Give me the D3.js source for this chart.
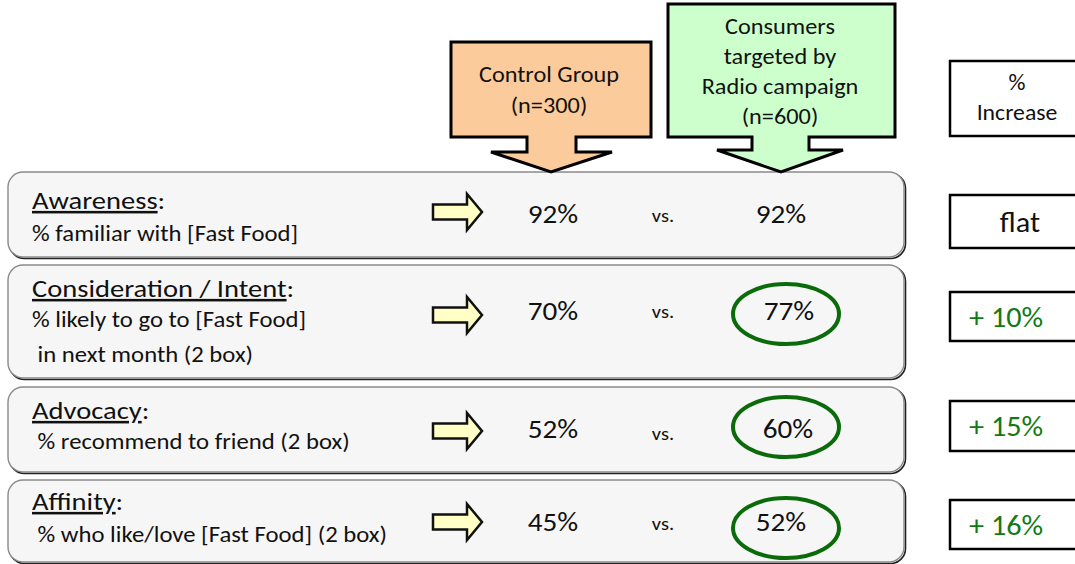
<!DOCTYPE html>
<html>
<head>
<meta charset="utf-8">
<script src="https://cdn.jsdelivr.net/npm/d3@7"></script>
<style>
  body { margin:0; background:#fff; }
  text { font-family: Carlito, Calibri, Lato, sans-serif; fill:#111; }
</style>
</head>
<body>
<div id="plot"></div>
<script>
// chart data
var metrics = ['Awareness', 'Consideration / Intent', 'Advocacy', 'Affinity'];
var descriptions = [
  ['% familiar with [Fast Food]'],
  ['% likely to go to [Fast Food]', ' in next month (2 box)'],
  [' % recommend to friend (2 box)'],
  [' % who like/love [Fast Food] (2 box)']
];
var controlValues = [92, 70, 52, 45];
var radioValues = [92, 77, 60, 52];
var increaseLabels = ['flat', '+ 10%', '+ 15%', '+ 16%'];
var highlighted = [false, true, true, true];
var groups = [
  {key:'control', lines:['Control Group', '(n=300)']},
  {key:'radio', lines:['Consumers', 'targeted by', 'Radio campaign', '(n=600)']}
];
var increaseHeader = ['%', 'Increase'];

// layout
var width = 1075, height = 564;
var sx = 1.08; // text is a bit wider than tall in the original
var rowTop = [172, 265, 387, 480],
    rowBottom = [257, 378, 472, 562],
    labelY = [209, 297, 419, 510],
    descY = [241, 327, 449, 542],
    arrowY = [212, 315, 431, 522],
    valueY = [223, 320, 438, 531],
    vsY = [222, 318, 440, 530],
    ringY = [214, 314, 427, 528],
    radioDx = [0, 8, 7, 0],
    incTop = [195, 292, 401, 500],
    incBottom = [248, 341, 451, 549];

var x = d3.scaleOrdinal()
  .domain(['control', 'vs', 'radio'])
  .range([553, 663, 781]);

function place(px, py, k){
  return 'translate(' + px + ',' + py + ') scale(' + (k || sx) + ',1)';
}

var svg = d3.select('#plot')
  .append('svg')
  .attr('width', width)
  .attr('height', height);

var rows = svg.selectAll('g.row')
  .data(metrics)
  .enter()
  .append('g')
  .attr('class', 'row');

// shadow + box
rows.append('rect')
  .attr('x', 9.5).attr('y', function(d,i){ return rowTop[i] + 1.5; })
  .attr('width', 896).attr('height', function(d,i){ return rowBottom[i] - rowTop[i]; })
  .attr('rx', 15)
  .style('fill', 'none').style('stroke', '#222').style('stroke-width', 1.6);
rows.append('rect')
  .attr('x', 8).attr('y', function(d,i){ return rowTop[i]; })
  .attr('width', 896).attr('height', function(d,i){ return rowBottom[i] - rowTop[i]; })
  .attr('rx', 15)
  .style('fill', '#f6f6f6').style('stroke', '#8a8a8a').style('stroke-width', 1.4);

// metric names
var metricLabel = rows.append('text')
  .attr('transform', function(d,i){ return place(32, labelY[i], 1.12); })
  .style('font-size', '25.5px');
metricLabel.append('tspan')
  .style('text-decoration', 'underline')
  .text(function(d){ return d; });
metricLabel.append('tspan').text(':');

rows.each(function(d,i){
  d3.select(this).selectAll('text.desc')
    .data(descriptions[i])
    .enter()
    .append('text')
    .attr('class', 'desc')
    .attr('transform', function(t,j){ return place(32, descY[i] + j*35, 1.15); })
    .style('font-size', '21.5px')
    .style('white-space', 'pre')
    .text(function(t){ return t; });
});

// yellow arrows
rows.append('path')
  .attr('d', function(d,i){
    var c = arrowY[i];
    return 'M433,' + (c-7.5) + 'H467V' + (c-18) + 'L482,' + c + 'L467,' + (c+18) + 'V' + (c+7.5) + 'H433Z';
  })
  .style('fill', '#ffffc6').style('stroke', '#111').style('stroke-width', 2.5)
  .style('stroke-linejoin', 'miter');

// values
rows.append('text')
  .attr('transform', function(d,i){ return place(x('control'), valueY[i]); })
  .attr('text-anchor', 'middle')
  .style('font-size', '27px')
  .text(function(d,i){ return controlValues[i] + '%'; });
rows.append('text')
  .attr('transform', function(d,i){ return place(x('vs'), vsY[i]); })
  .attr('text-anchor', 'middle')
  .style('font-size', '19px')
  .text('vs.');
rows.filter(function(d,i){ return highlighted[i]; })
  .append('ellipse')
  .attr('cx', x('radio') + 5)
  .attr('cy', function(d){ return ringY[metrics.indexOf(d)]; })
  .attr('rx', 53).attr('ry', 30)
  .style('fill', 'none').style('stroke', '#0b6b0b').style('stroke-width', 4);
rows.append('text')
  .attr('transform', function(d,i){ return place(x('radio') + radioDx[i], valueY[i]); })
  .attr('text-anchor', 'middle')
  .style('font-size', '27px')
  .text(function(d,i){ return radioValues[i] + '%'; });

// % increase boxes
rows.append('rect')
  .attr('x', 950).attr('y', function(d,i){ return incTop[i]; })
  .attr('width', 140).attr('height', function(d,i){ return incBottom[i] - incTop[i]; })
  .style('fill', '#fff').style('stroke', '#000').style('stroke-width', 2.5);
rows.append('text')
  .attr('transform', function(d,i){
    return place(highlighted[i] ? 969 : 1020, (incTop[i] + incBottom[i]) / 2 + 10);
  })
  .attr('text-anchor', function(d,i){ return highlighted[i] ? 'start' : 'middle'; })
  .style('font-size', '28px')
  .style('fill', function(d,i){ return highlighted[i] ? '#137a13' : '#111'; })
  .text(function(d,i){ return increaseLabels[i]; });

// header callouts
var callouts = {
  control: {l:451, r:651, t:42, b:137, sl:527, sr:576, hb:152, hl:491, hr:612, tip:551, ty:172, fill:'#fccb9b', cx:549, ty0:82, lh:31},
  radio: {l:668, r:895, t:4, b:137, sl:752, sr:809, hb:150, hl:717, hr:843, tip:781, ty:172, fill:'#ccffcc', cx:780, ty0:34, lh:30}
};
var heads = svg.selectAll('g.head')
  .data(groups)
  .enter()
  .append('g')
  .attr('class', 'head');
heads.append('path')
  .attr('d', function(d){
    var c = callouts[d.key];
    return 'M' + c.l + ',' + c.t + 'H' + c.r + 'V' + c.b + 'H' + c.sr + 'V' + c.hb + 'H' + c.hr +
      'L' + c.tip + ',' + c.ty + 'L' + c.hl + ',' + c.hb + 'H' + c.sl + 'V' + c.b + 'H' + c.l + 'Z';
  })
  .style('fill', function(d){ return callouts[d.key].fill; })
  .style('stroke', '#000').style('stroke-width', 3);
heads.each(function(d){
  var c = callouts[d.key];
  d3.select(this).selectAll('text')
    .data(d.lines)
    .enter()
    .append('text')
    .attr('transform', function(t,j){ return place(c.cx, c.ty0 + j*c.lh); })
    .attr('text-anchor', 'middle')
    .style('font-size', '22.5px')
    .text(function(t){ return t; });
});

// % increase header
svg.append('rect')
  .attr('x', 950).attr('y', 61).attr('width', 140).attr('height', 75)
  .style('fill', '#fff').style('stroke', '#000').style('stroke-width', 2.5);
svg.selectAll('text.inc-head')
  .data(increaseHeader)
  .enter()
  .append('text')
  .attr('class', 'inc-head')
  .attr('transform', function(d,i){ return place(1017, 90 + i*30); })
  .attr('text-anchor', 'middle')
  .style('font-size', '22px')
  .text(function(d){ return d; });
</script>
</body>
</html>
